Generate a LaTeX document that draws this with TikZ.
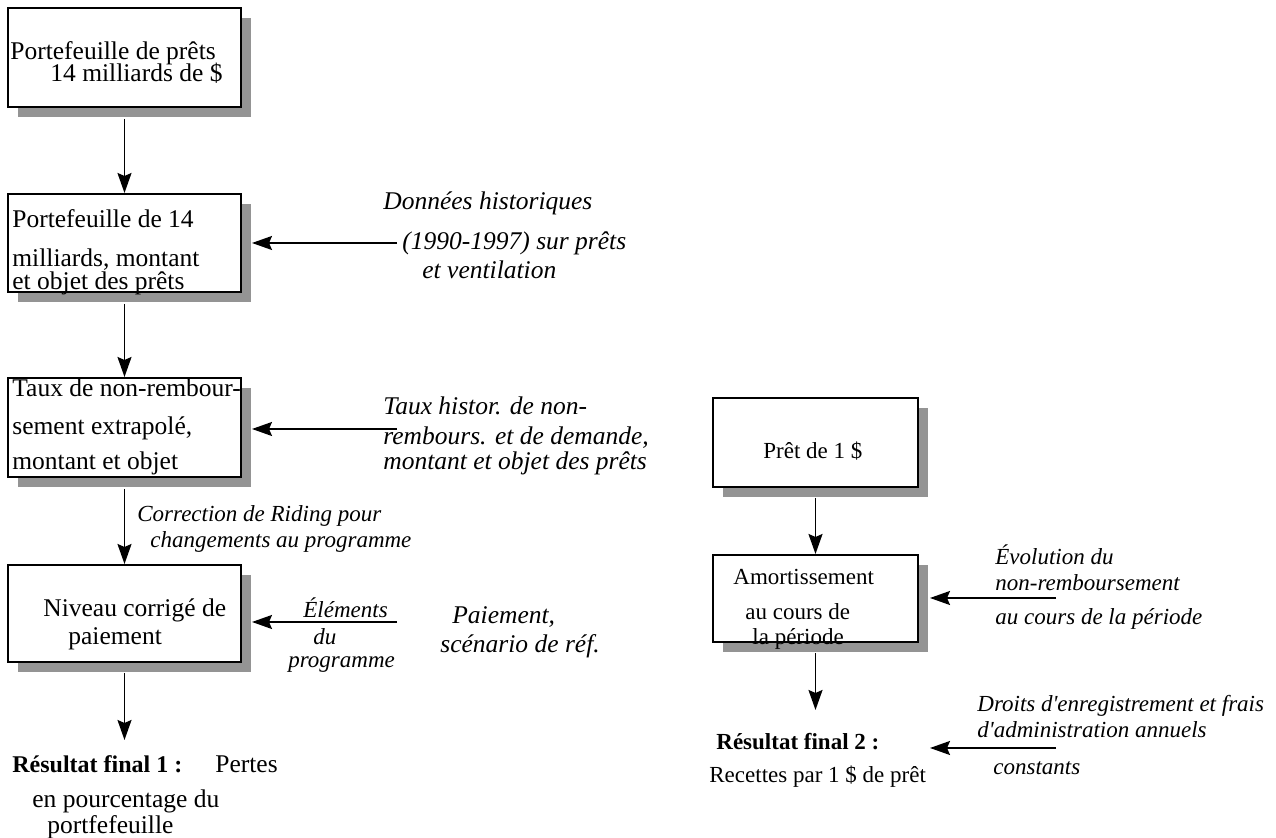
\documentclass[tikz,border=0pt]{standalone}
\usepackage{fontspec}
\setmainfont{Liberation Serif}
\usetikzlibrary{arrows.meta,shadows}

\tikzset{
  boite/.style={draw, line width=1pt, fill=white, inner sep=0pt,
    drop shadow={shadow xshift=5pt, shadow yshift=-5pt, fill=black!42, opacity=1}},
  fleche/.style={-{Stealth[length=10pt,width=7pt,inset=1.5pt]}, line width=0.9pt},
  txt/.style={anchor=base west, inner sep=0pt, font=\fontsize{12.75}{15}\selectfont},
  txtit/.style={anchor=base west, inner sep=0pt, font=\fontsize{12.75}{15}\selectfont\itshape},
  petit/.style={anchor=base west, inner sep=0pt, font=\fontsize{11.5}{14}\selectfont},
  petitit/.style={anchor=base west, inner sep=0pt, font=\fontsize{11.5}{14}\selectfont\itshape},
}

\begin{document}
\begin{tikzpicture}[x=0.5pt, y=-0.5pt]
    \useasboundingbox (0,0) rectangle (1276,838);
    % 左列方框
    \node[boite, minimum width=116.5pt, minimum height=49.5pt] (b1) at (124.5,57.5) {};
    \node[boite, minimum width=116.5pt, minimum height=49pt] (b2) at (124.5,243) {};
    \node[boite, minimum width=116.5pt, minimum height=49.5pt] (b3) at (124.5,427.5) {};
    \node[boite, minimum width=116.5pt, minimum height=48.5pt] (b4) at (124.5,613.5) {};
    % 右列方框
    \node[boite, minimum width=102.5pt, minimum height=44.5pt] (p1) at (815.5,442.5) {};
    \node[boite, minimum width=102.5pt, minimum height=43.5pt] (p2) at (815.5,598.5) {};
    % 方框文字
    \node[txt] (t1a) at (10,60) {Portefeuille de prêts};
    \node[txt] (t1b) at (50,82) {14 milliards de \$};
    \node[txt] (t2a) at (12,228) {Portefeuille de 14};
    \node[txt] (t2b) at (12,267) {milliards, montant};
    \node[txt] (t2c) at (12,290) {et objet des prêts};
    \node[txt] (t3a) at (12,397) {Taux de non-rembour-};
    \node[txt] (t3b) at (12,435) {sement extrapolé,};
    \node[txt] (t3c) at (12,470) {montant et objet};
    \node[txt] (t4a) at (43,617) {Niveau corrigé de};
    \node[txt] (t4b) at (68,645) {paiement};
    \node[petit] (tp1) at (763,459) {Prêt de 1 \$};
    \node[petit] (ta1) at (733,585) {Amortissement};
    \node[petit] (ta2) at (745,620) {au cours de};
    \node[petit] (ta3) at (752,645) {la période};
    % 结果
    \node[txt, font=\fontsize{12}{15}\selectfont\bfseries] (r1a) at (12,773) {Résultat final 1 :};
    \node[txt] (r1b) at (215,773) {Pertes};
    \node[txt] (r1c) at (32,808) {en pourcentage du};
    \node[txt] (r1d) at (47,834) {portfefeuille};
    \node[petit, font=\fontsize{11.5}{14}\selectfont\bfseries] (r2a) at (716,750) {Résultat final 2 :};
    \node[petit] (r2b) at (709,783) {Recettes par 1 \$ de prêt};
    % 输入说明
    \node[txtit] (d2a) at (383,210) {Données historiques};
    \node[txtit] (d2b) at (402,250) {(1990-1997) sur prêts};
    \node[txtit] (d2c) at (422,279) {et ventilation};
    \node[txtit] (d3a) at (383,415) {Taux histor. de non-};
    \node[txtit] (d3b) at (383,445) {rembours. et de demande,};
    \node[txtit] (d3c) at (383,470) {montant et objet des prêts};
    \node[petitit] (c1) at (137,522) {Correction de Riding pour};
    \node[petitit] (c2) at (150,548) {changements au programme};
    \node[petitit] (e1) at (303,618) {Éléments};
    \node[petitit] (e2) at (313,645) {du};
    \node[petitit] (e3) at (288,668) {programme};
    \node[txtit] (pa1) at (452,624) {Paiement,};
    \node[txtit] (pa2) at (440,653) {scénario de réf.};
    \node[petitit] (v1) at (995,565) {Évolution du};
    \node[petitit] (v2) at (995,591) {non-remboursement};
    \node[petitit] (v3) at (995,625) {au cours de la période};
    \node[petitit] (g1) at (977,712) {Droits d\textquotesingle enregistrement et frais};
    \node[petitit] (g2) at (977,738) {d\textquotesingle administration annuels};
    \node[petitit] (g3) at (993,775) {constants};
    % 竖直箭头
    \coordinate (f1) at (124.5,740);
    \coordinate (f2) at (815.5,710);
    \draw[fleche] ([yshift=-5.5pt]b1.south) -- (b2.north);
    \draw[fleche] ([yshift=-5.5pt]b2.south) -- (b3.north);
    \draw[fleche] ([yshift=-5.5pt]b3.south) -- (b4.north);
    \draw[fleche] ([yshift=-5pt]b4.south) -- (f1);
    \draw[fleche] ([yshift=-5pt]p1.south) -- (p2.north);
    \draw[fleche] ([yshift=-5pt]p2.south) -- (f2);
    % 水平箭头
    \coordinate (s2) at (397,243);
    \coordinate (s3) at (397,429);
    \coordinate (s4) at (397,622);
    \coordinate (s5) at (1056,598);
    \coordinate (s6) at (1056,748);
    \coordinate (e2) at (s2 -| b2.east);
    \coordinate (e3) at (s3 -| b3.east);
    \coordinate (e4) at (s4 -| b4.east);
    \coordinate (e5) at (s5 -| p2.east);
    \coordinate (e6) at (s6 -| p2.east);
    \draw[fleche] (s2) -- ([xshift=5pt]e2);
    \draw[fleche] (s3) -- ([xshift=5pt]e3);
    \draw[fleche] (s4) -- ([xshift=5pt]e4);
    \draw[fleche] (s5) -- ([xshift=5.5pt]e5);
    \draw[fleche] (s6) -- ([xshift=5.5pt]e6);
\end{tikzpicture}
\end{document}
